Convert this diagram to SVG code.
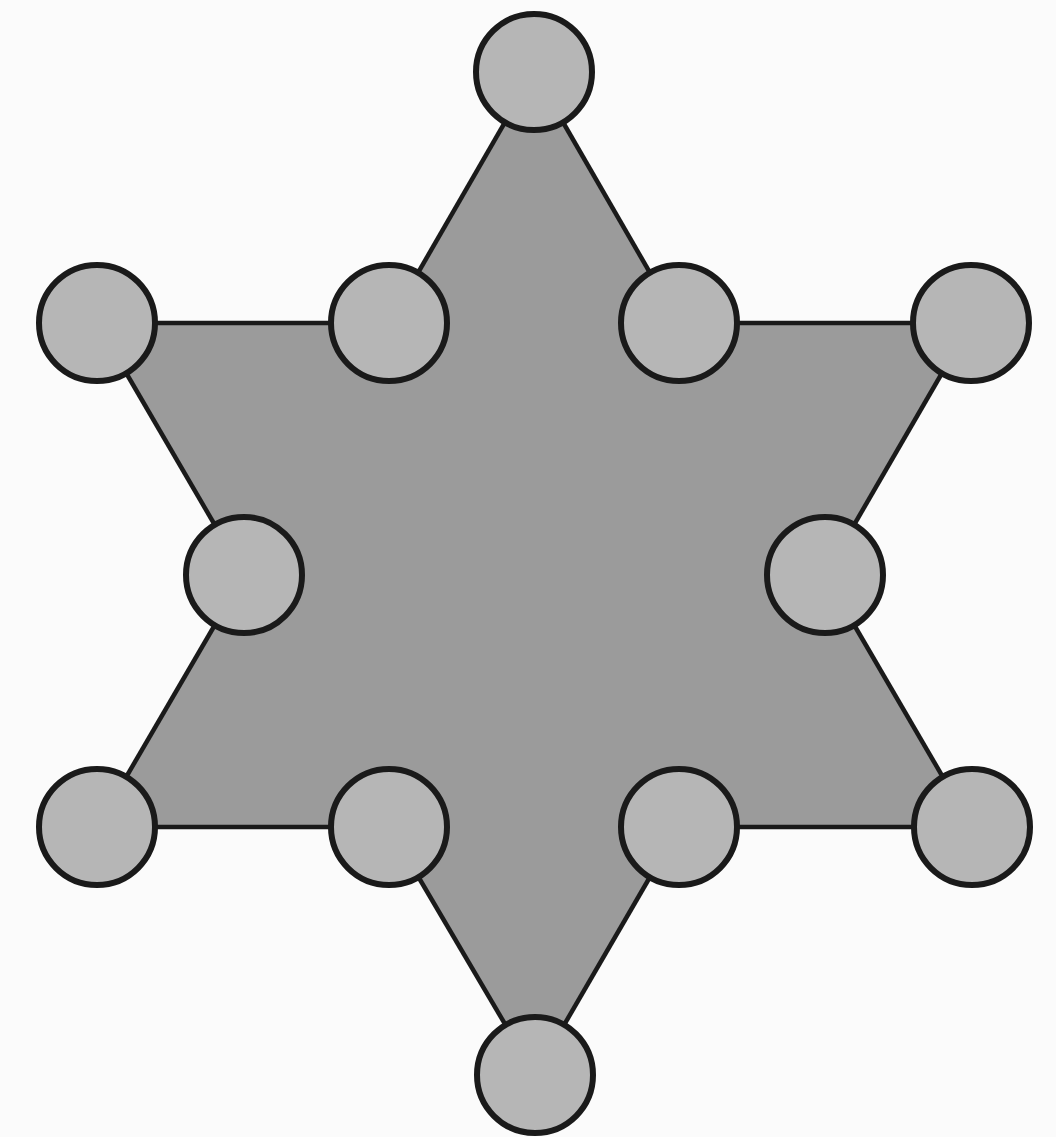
<svg xmlns="http://www.w3.org/2000/svg" width="1056" height="1137" viewBox="0 0 1056 1137">
<style>
.node{fill:#b6b6b6;stroke:#1a1a1a;stroke-width:6}
.edge{stroke:#1a1a1a;stroke-width:4.5;fill:none}
</style>
<rect width="1056" height="1137" fill="#fbfbfb"/>
<g id="star">
<polygon points="534,72 679,323 971,323 825,575 972,827 679,827 535,1075 389,827 97,827 244,575 97,323 389,323" fill="#9b9b9b" stroke="none"/>
</g>
<g id="connectors">
<line class="edge" x1="534" y1="72" x2="389" y2="323"/>
<line class="edge" x1="534" y1="72" x2="679" y2="323"/>
<line class="edge" x1="97" y1="323" x2="389" y2="323"/>
<line class="edge" x1="679" y1="323" x2="971" y2="323"/>
<line class="edge" x1="97" y1="323" x2="244" y2="575"/>
<line class="edge" x1="971" y1="323" x2="825" y2="575"/>
<line class="edge" x1="244" y1="575" x2="97" y2="827"/>
<line class="edge" x1="825" y1="575" x2="972" y2="827"/>
<line class="edge" x1="97" y1="827" x2="389" y2="827"/>
<line class="edge" x1="679" y1="827" x2="972" y2="827"/>
<line class="edge" x1="389" y1="827" x2="535" y2="1075"/>
<line class="edge" x1="679" y1="827" x2="535" y2="1075"/>
</g>
<g id="n-top"><circle class="node" cx="534" cy="72" r="58"/></g>
<g id="n-ul"><circle class="node" cx="97" cy="323" r="58"/></g>
<g id="n-uil"><circle class="node" cx="389" cy="323" r="58"/></g>
<g id="n-uir"><circle class="node" cx="679" cy="323" r="58"/></g>
<g id="n-ur"><circle class="node" cx="971" cy="323" r="58"/></g>
<g id="n-ml"><circle class="node" cx="244" cy="575" r="58"/></g>
<g id="n-mr"><circle class="node" cx="825" cy="575" r="58"/></g>
<g id="n-ll"><circle class="node" cx="97" cy="827" r="58"/></g>
<g id="n-lil"><circle class="node" cx="389" cy="827" r="58"/></g>
<g id="n-lir"><circle class="node" cx="679" cy="827" r="58"/></g>
<g id="n-lr"><circle class="node" cx="972" cy="827" r="58"/></g>
<g id="n-bottom"><circle class="node" cx="535" cy="1075" r="58"/></g>
</svg>
